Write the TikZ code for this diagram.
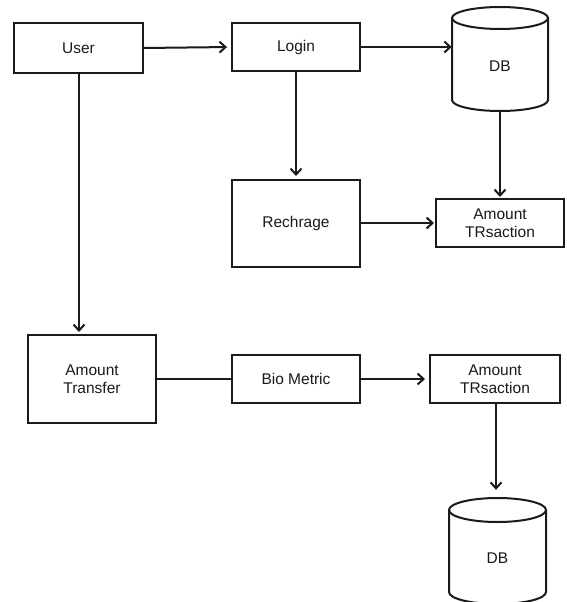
\documentclass[tikz,border=0pt]{standalone}
\usepackage{fontspec}
\setmainfont{Liberation Sans}
\usetikzlibrary{arrows.meta}
\definecolor{ink}{HTML}{1A1A1A}
\begin{document}
\begin{tikzpicture}[x=1pt,y=-1pt,
  every node/.style={font=\fontsize{15.5pt}{18.3pt}\selectfont, text=ink},
  box/.style={draw=ink, line width=2pt, fill=white, minimum width=128pt, align=center, inner sep=0pt},
  conn/.style={draw=ink, line width=2pt},
  arr/.style={conn, -{Straight Barb[length=6pt,width=11pt,line width=2pt]}},
  dbshape/.style={draw=none, minimum width=96pt, inner sep=0pt}
]
\useasboundingbox (0,0) rectangle (566,602);
\fill[white] (0,0) rectangle (566,602);

% boxes
\node[box, minimum width=129pt, minimum height=50pt] (user) at (78.5,48) {User};
\node[box, minimum height=48pt] (login) at (296,47) {Login};
\node[box, minimum height=87pt] (rech) at (296,223.5) {Rechrage};
\node[box, minimum height=48pt] (amt1) at (500,223) {Amount\\TRsaction};
\node[box, minimum height=88pt] (trans) at (92,379) {Amount\\Transfer};
\node[box, minimum height=48pt] (bio) at (296,379) {Bio Metric};
\node[box, minimum width=130pt, minimum height=48pt] (amt2) at (495,379) {Amount\\TRsaction};

% DB 1 cylinder
\node[dbshape, minimum height=106pt] (db1) at (500,59) {};
\draw[conn] (452,18) -- (452,100) arc[start angle=180, end angle=0, x radius=48, y radius=11] -- (548,18);
\draw[conn] (500,18) ellipse [x radius=48, y radius=11];
\node (db1t) at (500,66) {DB};

% DB 2 cylinder
\node[dbshape, minimum width=97pt, minimum height=106pt] (db2) at (497.5,551) {};
\draw[conn] (449,510) -- (449,592) arc[start angle=180, end angle=0, x radius=48.5, y radius=12] -- (546,510);
\draw[conn] (497.5,510) ellipse [x radius=48.5, y radius=12];
\node (db2t) at (497.5,558) {DB};

% connectors
\draw[arr, shorten >=4pt] (user.east) -- (login.west);
\draw[arr] (login.east) -- (login.east -| db1.west);
\draw[arr, shorten >=3pt] (login.south) -- (rech.north);
\draw[arr, shorten >=1pt] (db1.south) -- (amt1.north);
\draw[arr, shorten >=1pt] (rech.east |- amt1.west) -- (amt1.west);
\draw[arr, shorten >=2pt] (user.south -| 79,0) -- (trans.north -| 79,0);
\draw[conn] (trans.east) -- (bio.west);
\draw[arr, shorten >=4pt] (bio.east) -- (amt2.west);
\draw[arr, shorten >=8pt] (amt2.south -| 496,0) -- (db2.north -| 496,0);
\end{tikzpicture}
\end{document}
